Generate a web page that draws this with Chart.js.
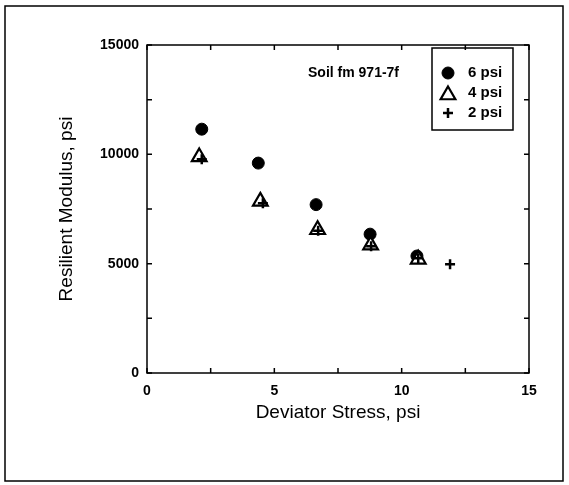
<!DOCTYPE html>
<html>
<head>
<meta charset="utf-8">
<script src="https://cdn.jsdelivr.net/npm/chart.js@4"></script>
<style>
  html, body { margin: 0; padding: 0; background: #fff; }
  #wrap { width: 569px; height: 485px; }
</style>
</head>
<body>
<div id="wrap"><canvas id="modulusChart" width="569" height="485"></canvas></div>
<script>
// Resilient modulus vs deviator stress, three confining pressures
const stress6 = [2.15, 4.37, 6.64, 8.76, 10.6];
const modulus6 = [11150, 9600, 7700, 6350, 5350];
const stress4 = [2.05, 4.45, 6.70, 8.78, 10.65];
const modulus4 = [9880, 7850, 6550, 5850, 5200];
const stress2 = [2.15, 4.55, 6.72, 8.8, 10.65, 11.9];
const modulus2 = [9770, 7760, 6500, 5800, 5250, 4970];

const xTicks = [0, 5, 10, 15];
const yTicks = [0, 5000, 10000, 15000];
const seriesLabels = ['6 psi', '4 psi', '2 psi'];
const noteText = 'Soil fm 971-7f';

const FONT = '"Liberation Sans", Arial, sans-serif';
const toPoints = (xs, ys) => xs.map((x, i) => ({ x: x, y: ys[i] }));

// frame, inward ticks on all four sides, note text and boxed legend
const framePlugin = {
    id: 'frame',
    afterDraw(chart) {
        const ctx = chart.ctx;
        const a = chart.chartArea;
        const xs = chart.scales.x, ys = chart.scales.y;
        ctx.save();
        ctx.strokeStyle = '#000';

        // outer border of the figure
        ctx.lineWidth = 1.5;
        ctx.strokeRect(5, 6, 558, 475);

        // plot box
        ctx.strokeRect(a.left, a.top, a.right - a.left, a.bottom - a.top);

        const len = 5;
        ctx.beginPath();
        xs.ticks.forEach(t => {
            const px = xs.getPixelForValue(t.value);
            ctx.moveTo(px, a.bottom); ctx.lineTo(px, a.bottom - len);
            ctx.moveTo(px, a.top); ctx.lineTo(px, a.top + len);
        });
        ys.ticks.forEach(t => {
            const py = ys.getPixelForValue(t.value);
            ctx.moveTo(a.left, py); ctx.lineTo(a.left + len, py);
            ctx.moveTo(a.right, py); ctx.lineTo(a.right - len, py);
        });
        ctx.stroke();

        // note
        ctx.fillStyle = '#000';
        ctx.font = 'bold 14px ' + FONT;
        ctx.textBaseline = 'middle';
        ctx.textAlign = 'left';
        ctx.fillText(noteText, a.left + 161, a.top + 28);

        // legend box
        const bx = a.right - 97, by = a.top + 3, bw = 81, bh = 82;
        ctx.lineWidth = 1.5;
        ctx.strokeRect(bx, by, bw, bh);
        chart.data.datasets.forEach((ds, i) => {
            const cy = by + 25 + i * 20;
            const cx = bx + 16;
            ctx.save();
            ctx.fillStyle = ds.pointBackgroundColor;
            ctx.strokeStyle = ds.pointBorderColor;
            ctx.lineWidth = ds.pointBorderWidth;
            Chart.helpers.drawPoint(ctx, {
                pointStyle: ds.pointStyle,
                radius: ds.pointRadius,
                borderWidth: ds.pointBorderWidth,
                rotation: 0
            }, cx, cy + (ds.pointStyle === 'triangle' ? 2 : 0));
            ctx.restore();
            ctx.fillStyle = '#000';
            ctx.font = 'bold 15px ' + FONT;
            ctx.fillText(ds.label, bx + 36, cy);
        });
        ctx.restore();
    }
};

const ctx = document.getElementById('modulusChart').getContext('2d');
const modulusChart = new Chart(ctx, {
    type: 'scatter',
    data: {
        datasets: [
            {
                label: seriesLabels[0],
                data: toPoints(stress6, modulus6),
                pointStyle: 'circle',
                pointRadius: 6,
                pointBorderWidth: 1,
                pointBackgroundColor: '#000',
                pointBorderColor: '#000',
                order: 3
            },
            {
                label: seriesLabels[1],
                data: toPoints(stress4, modulus4),
                pointStyle: 'triangle',
                pointRadius: 8.5,
                pointBorderWidth: 2.2,
                pointBackgroundColor: '#fff',
                pointBorderColor: '#000',
                order: 2
            },
            {
                label: seriesLabels[2],
                data: toPoints(stress2, modulus2),
                pointStyle: 'cross',
                pointRadius: 5,
                pointBorderWidth: 2.5,
                pointBackgroundColor: '#000',
                pointBorderColor: '#000',
                order: 1
            }
        ]
    },
    options: {
        responsive: false,
        animation: false,
        layout: {
            padding: { left: 0, right: 40, top: 45, bottom: 0 }
        },
        plugins: {
            legend: { display: false },
            tooltip: { enabled: false }
        },
        scales: {
            x: {
                type: 'linear',
                min: 0,
                max: 15,
                grid: { display: false, drawTicks: false },
                border: { display: false },
                ticks: {
                    stepSize: 2.5,
                    padding: 10,
                    maxRotation: 0,
                    color: '#000',
                    font: { family: FONT, size: 14, weight: 'bold' },
                    callback: v => xTicks.includes(v) ? String(v) : ''
                },
                title: {
                    display: true,
                    text: 'Deviator Stress, psi',
                    color: '#000',
                    font: { family: FONT, size: 19 },
                    padding: { top: 4, bottom: 61 }
                },
                afterFit: scale => { scale.height = 112; }
            },
            y: {
                type: 'linear',
                min: 0,
                max: 15000,
                grid: { display: false, drawTicks: false },
                border: { display: false },
                ticks: {
                    stepSize: 2500,
                    padding: 8,
                    color: '#000',
                    font: { family: FONT, size: 14, weight: 'bold' },
                    callback: v => yTicks.includes(v) ? String(v) : ''
                },
                title: {
                    display: true,
                    text: 'Resilient Modulus, psi',
                    color: '#000',
                    font: { family: FONT, size: 19 },
                    padding: { top: 55, bottom: 4 }
                },
                afterFit: scale => { scale.width = 147; }
            }
        }
    },
    plugins: [framePlugin]
});
</script>
</body>
</html>
